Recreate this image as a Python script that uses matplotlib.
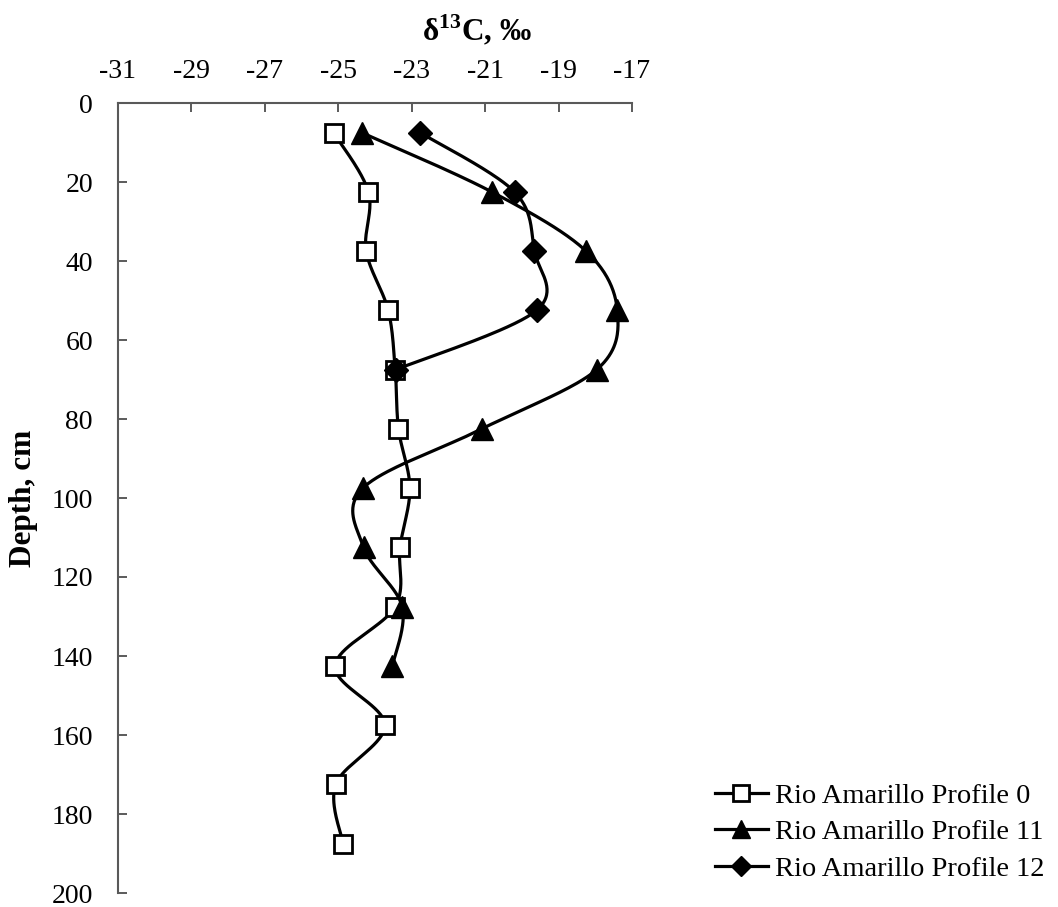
import numpy as np
import matplotlib
matplotlib.use('Agg')
import matplotlib.pyplot as plt
from matplotlib.lines import Line2D

plt.rcParams['font.family'] = ['Liberation Serif', 'DejaVu Serif']
plt.rcParams['mathtext.fontset'] = 'custom'
plt.rcParams['mathtext.rm'] = 'Liberation Serif'
plt.rcParams['mathtext.bf'] = 'Liberation Serif:bold'

# depths (cm) of sample mid-points
depth_p0 = [7.5, 22.5, 37.5, 52.5, 67.5, 82.5, 97.5, 112.5, 127.5, 142.5, 157.5, 172.5, 187.5]
depth_p11 = [7.5, 22.5, 37.5, 52.5, 67.5, 82.5, 97.5, 112.5, 127.5, 142.5]
depth_p12 = [7.5, 22.5, 37.5, 52.5, 67.5]

# d13C values
d13c_p0 = [-25.13, -24.18, -24.24, -23.64, -23.45, -23.36, -23.05, -23.32, -23.45, -25.09, -23.73, -25.07, -24.87]
d13c_p11 = [-24.36, -20.82, -18.25, -17.40, -17.96, -21.09, -24.33, -24.31, -23.26, -23.53]
d13c_p12 = [-22.77, -20.20, -19.66, -19.60, -23.43]

labels = ['Rio Amarillo Profile 0', 'Rio Amarillo Profile 11', 'Rio Amarillo Profile 12']
x_ticks = list(range(-31, -16, 2))
y_ticks = list(range(0, 201, 20))

W, H = 1058, 907
fig = plt.figure(figsize=(W / 100, H / 100), dpi=100)
ax = fig.add_axes([118 / W, 1 - 893 / H, (632 - 118) / W, (893 - 103) / H])
ax.set_xlim(-31, -17)
ax.set_ylim(200, 0)


def excel_smooth(xs, ys, n=40):
    # smoothed line like Excel: bezier segments through the points, in screen space
    pts = ax.transData.transform(np.column_stack([xs, ys]))
    out = []
    m = len(pts)
    t = np.linspace(0, 1, n)[:, None]
    for i in range(m - 1):
        p0 = pts[i - 1] if i > 0 else pts[i]
        p1 = pts[i]
        p2 = pts[i + 1]
        p3 = pts[i + 2] if i + 2 < m else pts[i + 1]
        c1 = p1 + (p2 - p0) / 6
        c2 = p2 - (p3 - p1) / 6
        seg = (1 - t) ** 3 * p1 + 3 * (1 - t) ** 2 * t * c1 + 3 * (1 - t) * t ** 2 * c2 + t ** 3 * p2
        out.append(seg)
    curve = np.vstack(out)
    return ax.transData.inverted().transform(curve)


series = [
    (d13c_p0, depth_p0, dict(marker='s', markersize=13, markerfacecolor='white', markeredgewidth=2)),
    (d13c_p11, depth_p11, dict(marker='^', markersize=16, markerfacecolor='black', markeredgewidth=1)),
    (d13c_p12, depth_p12, dict(marker='D', markersize=12.5, markerfacecolor='black', markeredgewidth=1)),
]

handles = []
for (xv, yv, mk), lab in zip(series, labels):
    c = excel_smooth(xv, yv)
    ax.plot(c[:, 0], c[:, 1], color='black', lw=2.3, solid_capstyle='round')
    ax.plot(xv, yv, linestyle='none', markeredgecolor='black', **mk)
    handles.append(Line2D([], [], color='black', lw=2.3, markeredgecolor='black', **mk))

ax.xaxis.tick_top()
ax.set_xticks(x_ticks)
ax.set_xticklabels([str(v) for v in x_ticks])
ax.set_yticks(y_ticks)
for s in ['right', 'bottom']:
    ax.spines[s].set_visible(False)
for s in ['top', 'left']:
    ax.spines[s].set_color('#595959')
    ax.spines[s].set_linewidth(1.5)
ax.tick_params(axis='both', direction='in', length=6.5, width=1.2, color='#404040',
               labelsize=20, pad=18)
ax.tick_params(axis='x', pad=14)

fig.text(477 / W, 1 - 30 / H, r'δ$^{\mathbf{13}}$C, ‰', ha='center', va='center',
         fontsize=22.5, fontweight='bold')
fig.text(24 / W, 1 - 498 / H, 'Depth, cm', rotation=90, ha='center', va='center',
         fontsize=22.5, fontweight='bold')

leg = fig.legend(handles, labels, loc='upper left', bbox_to_anchor=(715 / W, 1 - 783 / H),
                 frameon=False, fontsize=20.5, borderpad=0, borderaxespad=0,
                 handlelength=1.86, handletextpad=0.25, labelspacing=0.37)
for h in leg.legend_handles:
    h.set_markersize(h.get_markersize() * 0.85)

fig.savefig('out.png', dpi=100)
